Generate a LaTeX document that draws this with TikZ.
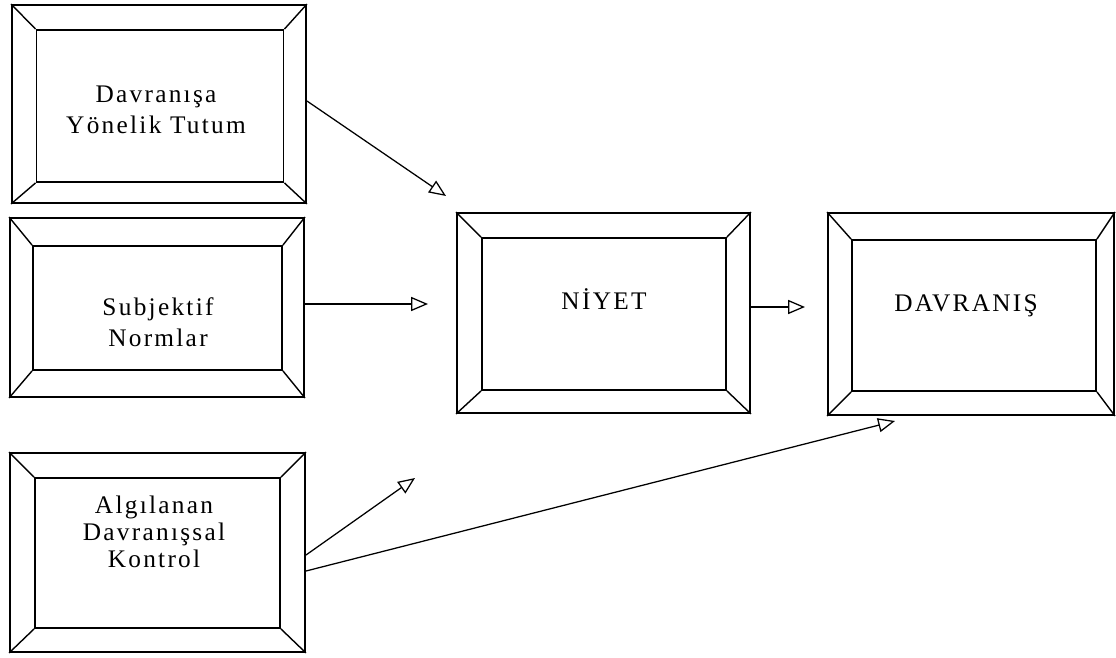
\documentclass[tikz,border=0pt]{standalone}
\usepackage{fontspec}
\setmainfont{Liberation Serif}[LetterSpace=9]
\usepackage{tikz}
\usetikzlibrary{arrows.meta,positioning,calc}
\tikzset{
  outerbox/.style={rectangle, draw, line width=1.3pt, inner sep=0pt},
  innerbox/.style={rectangle, draw, line width=1.3pt, inner sep=0pt},
  label/.style={align=center, inner sep=0pt, font=\fontsize{18}{22}\selectfont},
  bevel/.style={line width=1pt},
  arrow/.style={line width=0.9pt, -{Triangle[open, length=12pt, width=10pt]}}
}

\begin{document}
\begin{tikzpicture}[x=0.025cm, y=-0.025cm]
    \useasboundingbox (0,0) rectangle (1116,657);

    % Davranisa yonelik tutum
    \node[outerbox, minimum width=7.35cm, minimum height=4.95cm] (tutum) at (159,104) {};
    \node[innerbox, minimum width=6.175cm, minimum height=3.8cm] (tutumin) at (160,106) {};
    \node[label] (tutumtxt) at (156,110) {Davranışa\\Yönelik Tutum};

    % Subjektif normlar
    \node[outerbox, minimum width=7.35cm, minimum height=4.475cm] (normlar) at (157,307.5) {};
    \node[innerbox, minimum width=6.225cm, minimum height=3.1cm] (normlarin) at (157.5,308) {};
    \node[label] (normlartxt) at (158,322) {Subjektif\\Normlar};

    % Algilanan davranissal kontrol
    \node[outerbox, minimum width=7.375cm, minimum height=4.975cm] (kontrol) at (157.5,552.5) {};
    \node[innerbox, minimum width=6.125cm, minimum height=3.75cm] (kontrolin) at (157.5,553) {};
    \node[label, font=\fontsize{18}{19}\selectfont] (kontroltxt) at (154,532) {Algılanan\\Davranışsal\\Kontrol};

    % Niyet
    \node[outerbox, minimum width=7.325cm, minimum height=5cm] (niyet) at (603.5,313) {};
    \node[innerbox, minimum width=6.1cm, minimum height=3.8cm] (niyetin) at (604,314) {};
    \node[label] (niyettxt) at (604,299) {NİYET};

    % Davranis
    \node[outerbox, minimum width=7.15cm, minimum height=5.05cm] (davranis) at (971,314) {};
    \node[innerbox, minimum width=6.1cm, minimum height=3.775cm] (davranisin) at (974,315.5) {};
    \node[label] (davranistxt) at (966,306) {DAVRANIŞ};

    % bevel corners
    \foreach \b in {tutum, normlar, kontrol, niyet, davranis}
      \foreach \c in {north west, north east, south west, south east}
        \draw[bevel] (\b.\c) -- (\b in.\c);

    % free ends of the arrows
    \coordinate (t1) at (446,196);
    \coordinate (t2) at (428,304);
    \coordinate (t3) at (415,478);
    \coordinate (t4) at (895,421);
    \coordinate (t5) at (805,307);
    \coordinate (k1) at (306,555);
    \coordinate (k2) at (306,571);
    \coordinate (n1) at (750,307);

    % arrows
    \draw[arrow] (tutum.east |- 0,101) -- (t1);
    \draw[arrow] (normlar.east |- t2) -- (t2);
    \draw[arrow] (k1) -- (t3);
    \draw[arrow] (k2) -- (t4);
    \draw[arrow] (n1) -- (t5);
\end{tikzpicture}
\end{document}
